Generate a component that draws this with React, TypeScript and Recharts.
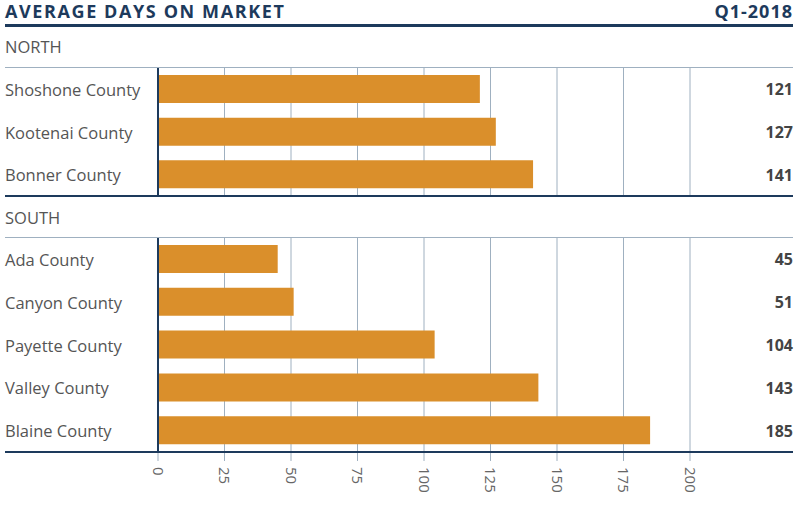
import React from 'react';
import { BarChart, Bar, XAxis, YAxis, CartesianGrid, LabelList } from 'recharts';

// --- data ---
const northCounties = ['Shoshone County', 'Kootenai County', 'Bonner County'];
const northDays = [121, 127, 141];
const southCounties = ['Ada County', 'Canyon County', 'Payette County', 'Valley County', 'Blaine County'];
const southDays = [45, 51, 104, 143, 185];
const xTicks = [0, 25, 50, 75, 100, 125, 150, 175, 200];

const NAVY = '#1d3a5c';
const GRID = '#9fb0c0';
const BAR = '#da8f2b';
const FONT = '"Open Sans", sans-serif';

const northData = northCounties.map((name, i) => ({ name, days: northDays[i] }));
const southData = southCounties.map((name, i) => ({ name, days: southDays[i] }));

const CountyTick = (props: any) => (
  <text x={5} y={props.y} dy="0.4em" textAnchor="start" fill="#555" fontSize={16.5} fontFamily={FONT}>
    {props.payload.value}
  </text>
);

const ValueLabel = (props: any) => (
  <text x={793} y={props.y + props.height / 2} dy="0.4em" textAnchor="end" fill="#444" fontSize={16} fontWeight={700} fontFamily={FONT}>
    {props.value}
  </text>
);

const RotatedTick = (props: any) => (
  <g transform={`translate(${props.x},${props.y + 4}) rotate(90)`}>
    <text x={0} y={0} dy="0.36em" textAnchor="start" fill="#666" fontSize={15} fontFamily={FONT}>
      {props.payload.value}
    </text>
  </g>
);

const NoTick = () => <g />;

const Rule: React.FC<{ top: number; h: number; color: string }> = ({ top, h, color }) => (
  <div style={{ position: 'absolute', left: 5, width: 788, top, height: h, background: color }} />
);

const Heading: React.FC<{ top: number; text: string }> = ({ top, text }) => (
  <div style={{ position: 'absolute', left: 5, top, fontSize: 16.5, color: '#555', fontFamily: FONT, lineHeight: '20px' }}>{text}</div>
);

const Section: React.FC<{ data: any[]; height: number; showAxis: boolean }> = ({ data, height, showAxis }) => (
  <BarChart
    layout="vertical"
    width={800}
    height={height + (showAxis ? 60 : 1)}
    data={data}
    margin={{ top: 0, right: 110, bottom: 0, left: 0 }}
  >
    <CartesianGrid horizontal={false} stroke={GRID} />
    <XAxis
      type="number"
      domain={[0, 200]}
      ticks={xTicks}
      interval={0}
      height={showAxis ? 60 : 1}
      axisLine={false}
      tickLine={showAxis ? { stroke: GRID } : false}
      tickSize={9}
      tick={showAxis ? <RotatedTick /> : <NoTick />}
    />
    <YAxis
      type="category"
      dataKey="name"
      width={158}
      axisLine={{ stroke: NAVY, strokeWidth: 2 }}
      tickLine={false}
      tick={<CountyTick />}
    />
    <Bar dataKey="days" fill={BAR} barSize={28} isAnimationActive={false}>
      <LabelList dataKey="days" content={<ValueLabel />} />
    </Bar>
  </BarChart>
);

export default function App() {
  return (
    <div style={{ position: 'absolute', left: 0, top: 0, width: 800, height: 515, background: '#fff', overflow: 'hidden' }}>
      <div style={{ position: 'absolute', left: 5, top: 0, fontSize: 18, fontWeight: 700, letterSpacing: 1.6, color: NAVY, fontFamily: FONT, lineHeight: '23px' }}>
        AVERAGE DAYS ON MARKET
      </div>
      <div style={{ position: 'absolute', right: 7, top: 0, fontSize: 18, fontWeight: 700, letterSpacing: 1, color: NAVY, fontFamily: FONT, lineHeight: '23px' }}>
        Q1-2018
      </div>
      <Rule top={24} h={3} color={NAVY} />
      <Heading top={37} text="NORTH" />
      <div style={{ position: 'absolute', left: 0, top: 68 }}>
        <Section data={northData} height={128} showAxis={false} />
      </div>
      <Rule top={67} h={1} color={GRID} />
      <Rule top={195} h={2} color={NAVY} />
      <Heading top={208} text="SOUTH" />
      <div style={{ position: 'absolute', left: 0, top: 238 }}>
        <Section data={southData} height={214} showAxis={true} />
      </div>
      <Rule top={237} h={1} color={GRID} />
      <Rule top={451} h={2} color={NAVY} />
    </div>
  );
}
